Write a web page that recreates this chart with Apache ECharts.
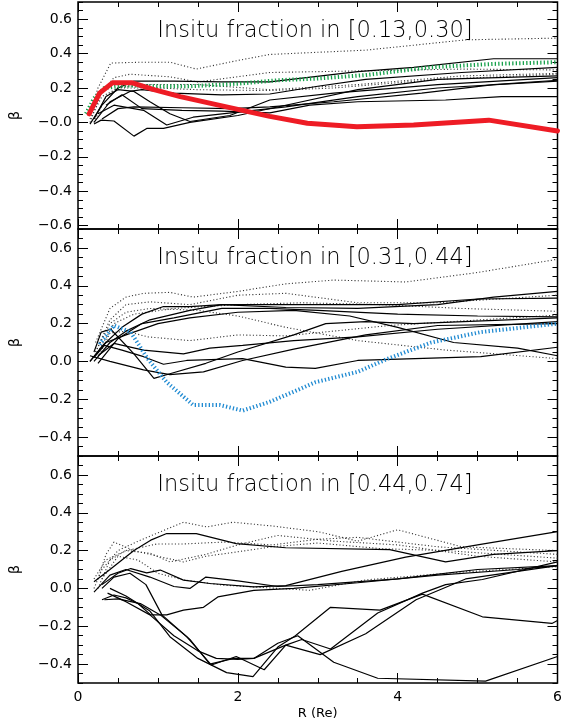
<!DOCTYPE html>
<html><head><meta charset="utf-8">
<script src="https://cdn.jsdelivr.net/npm/echarts@6/dist/echarts.min.js"></script>
<style>html,body{margin:0;padding:0;background:#fff}#c{width:572px;height:728px}</style>
</head><body><div id="c"></div>
<script>
// ---------- text / ticks ----------
const panelTitles = ['Insitu fraction in [0.13,0.30]', 'Insitu fraction in [0.31,0.44]', 'Insitu fraction in [0.44,0.74]'];
const xTitle = 'R (Re)';
const yTitle = 'β';
const yTicksP1 = [-0.6, -0.4, -0.2, 0, 0.2, 0.4, 0.6];
const yTicksP23 = [-0.4, -0.2, 0, 0.2, 0.4, 0.6];
const yRangeP1 = [-0.62, 0.7];
const yRangeP23 = [-0.5, 0.7];
const xRange = [0, 6];

// ---------- panel 1 ----------
const p1Solid = [
  [[0.15,-0.01],[0.3,0.1],[0.5,0.2],[0.7,0.24],[1.2,0.24],[1.8,0.235],[2.4,0.235],[3.5,0.295],[4.2,0.32],[5.2,0.37],[6,0.37]],
  [[0.2,0.0],[0.4,0.12],[0.65,0.18],[0.8,0.19],[1.2,0.17],[1.8,0.16],[2.4,0.165],[3.0,0.21],[3.6,0.25],[4.8,0.29],[6,0.32]],
  [[0.2,0.02],[0.35,0.15],[0.5,0.19],[0.7,0.18],[0.9,0.12],[1.15,0.05],[1.4,0.005],[1.9,0.04],[2.4,0.13],[3.2,0.17],[4.5,0.22],[6,0.26]],
  [[0.3,0.02],[0.5,0.08],[0.7,0.09],[1.3,0.085],[1.9,0.08],[2.4,0.09],[3.2,0.12],[4.3,0.17],[5.2,0.22],[6,0.245]],
  [[0.35,0.1],[0.55,0.16],[0.8,0.08],[1.3,0.07],[1.8,0.065],[2.4,0.055],[2.9,0.1],[3.5,0.12],[4.6,0.13],[5.3,0.15],[6,0.15]],
  [[0.2,-0.01],[0.29,0.013],[0.45,0.008],[0.7,-0.08],[0.86,-0.035],[1.07,-0.035],[1.4,0.0],[2.0,0.04],[2.7,0.11],[3.5,0.19],[4.5,0.25],[6,0.27]],
  [[0.25,0.05],[0.45,0.1],[0.82,0.07],[1.11,-0.015],[1.44,0.03],[2.0,0.06],[2.6,0.09],[3.5,0.15],[4.5,0.2],[6,0.24]]
];
const p1Dotted = [
  [[0.15,0.05],[0.25,0.2],[0.41,0.345],[0.8,0.35],[1.15,0.35],[1.48,0.31],[2.0,0.36],[2.4,0.395],[3.6,0.42],[4.85,0.48],[6,0.49]],
  [[0.15,0.0],[0.3,0.18],[0.45,0.26],[0.65,0.28],[1.15,0.265],[1.5,0.235],[2.4,0.29],[3.6,0.3],[4.8,0.31],[6,0.305]],
  [[0.2,0.0],[0.35,0.15],[0.5,0.2],[0.8,0.22],[1.5,0.22],[2.4,0.19],[3.5,0.22],[4.8,0.27],[6,0.285]],
  [[0.15,0.02],[0.3,0.15],[0.5,0.2],[1.0,0.2],[1.5,0.19],[2.4,0.185],[3.2,0.2],[4.5,0.25],[6,0.28]]
];
const p1Green = [[0.1,0.05],[0.2,0.14],[0.33,0.2],[0.6,0.215],[1.0,0.21],[1.4,0.21],[2.0,0.225],[2.5,0.245],[3.0,0.255],[3.6,0.275],[4.4,0.32],[5.2,0.34],[6,0.35]];
const p1Red = [[0.14,0.05],[0.27,0.17],[0.43,0.23],[0.68,0.23],[0.95,0.19],[1.28,0.15],[1.9,0.086],[2.4,0.035],[2.87,-0.005],[3.49,-0.025],[4.2,-0.015],[5.14,0.013],[6,-0.05]];

// ---------- panel 2 ----------
const p2Solid = [
  [[0.15,0.0],[0.3,0.08],[0.55,0.18],[0.8,0.25],[1.07,0.29],[1.4,0.29],[1.8,0.3],[2.6,0.285],[3.5,0.28],[4.5,0.3],[5.2,0.34],[6,0.37]],
  [[0.2,0.0],[0.4,0.1],[0.6,0.16],[0.9,0.22],[1.4,0.27],[1.8,0.3],[2.4,0.3],[3.0,0.3],[4.0,0.3],[5,0.33],[6,0.335]],
  [[0.25,-0.01],[0.5,0.12],[0.8,0.2],[1.2,0.23],[1.8,0.28],[2.4,0.28],[3.0,0.27],[4.0,0.25],[5.0,0.24],[6,0.235]],
  [[0.2,0.05],[0.29,0.155],[0.41,0.17],[0.7,0.04],[0.95,-0.09],[1.15,-0.065],[1.6,-0.01],[2.0,0.05],[2.7,0.14],[3.1,0.2],[3.6,0.21],[4.2,0.2],[6,0.23]],
  [[0.25,0.03],[0.45,0.095],[0.82,0.06],[1.32,0.04],[1.65,0.07],[2.06,0.085],[2.7,0.11],[3.5,0.13],[4.5,0.17],[6,0.21]],
  [[0.2,0.02],[0.33,0.085],[0.55,0.06],[0.82,0.025],[1.07,-0.015],[1.36,0.005],[2.06,0.015],[2.6,-0.03],[2.97,-0.037],[3.5,0.005],[5.04,0.025],[6,0.075]],
  [[0.15,0.03],[0.4,0.0],[0.82,-0.045],[1.15,-0.07],[1.57,-0.055],[2.06,0.005],[2.7,0.065],[3.6,0.14],[4.5,0.19],[6,0.2]],
  [[0.15,0.0],[0.35,0.1],[0.6,0.14],[1.0,0.2],[1.4,0.23],[2.0,0.26],[2.7,0.27],[3.4,0.24],[4.0,0.18],[4.7,0.1],[5.5,0.07],[6,0.03]]
];
const p2Dotted = [
  [[0.22,0.1],[0.4,0.28],[0.6,0.34],[0.82,0.36],[1.15,0.365],[1.44,0.34],[2.0,0.37],[2.6,0.41],[3.2,0.43],[4.1,0.42],[5.0,0.47],[6,0.54]],
  [[0.22,0.05],[0.4,0.22],[0.6,0.3],[0.9,0.315],[1.4,0.3],[2.0,0.35],[2.6,0.36],[3.5,0.31],[4.5,0.31],[6,0.35]],
  [[0.22,0.05],[0.4,0.2],[0.6,0.26],[0.9,0.28],[1.5,0.27],[2.0,0.24],[2.6,0.18],[3.5,0.11],[4.6,0.06],[6,0.015]],
  [[0.25,0.02],[0.4,0.15],[0.6,0.16],[0.87,0.13],[1.4,0.11],[2.0,0.14],[2.6,0.135],[3.9,0.19],[6,0.245]],
  [[0.25,0.05],[0.45,0.2],[0.7,0.25],[1.2,0.28],[2.0,0.3],[2.8,0.31],[3.8,0.3],[4.8,0.28],[6,0.265]]
];
const p2Blue = [[0.27,0.09],[0.45,0.19],[0.66,0.155],[0.87,0.015],[1.11,-0.11],[1.44,-0.23],[1.77,-0.23],[2.06,-0.26],[2.39,-0.215],[2.7,-0.16],[2.97,-0.11],[3.5,-0.055],[3.88,0.015],[4.42,0.1],[5.04,0.155],[6,0.2]];

// ---------- panel 3 ----------
const p3Solid = [
  [[0.2,0.035],[0.4,0.1],[0.7,0.2],[0.91,0.255],[1.11,0.29],[1.48,0.29],[1.98,0.237],[2.6,0.215],[3.9,0.205],[4.6,0.14],[5.2,0.18],[6,0.2]],
  [[0.3,0.02],[0.5,0.08],[0.66,0.105],[0.86,0.082],[1.03,0.097],[1.32,0.044],[1.65,0.026],[2.2,0.008],[2.6,0.015],[3.3,0.09],[4.1,0.165],[5.0,0.23],[6,0.3]],
  [[0.2,-0.02],[0.4,0.07],[0.6,0.1],[0.9,0.06],[1.2,0.01],[1.4,0.0],[1.6,0.06],[2.0,0.04],[2.5,0.01],[3.0,0.02],[4.0,0.05],[5.0,0.1],[6,0.12]],
  [[0.3,-0.06],[0.45,-0.035],[0.6,-0.05],[0.75,-0.08],[0.91,-0.14],[1.11,-0.14],[1.32,-0.115],[1.57,-0.1],[1.75,-0.045],[2.2,-0.01],[2.7,0.0],[3.5,0.03],[4.5,0.07],[5.5,0.1],[6,0.12]],
  [[0.3,0.0],[0.45,0.06],[0.65,0.08],[0.85,0.02],[1.05,-0.14],[1.4,-0.27],[1.65,-0.4],[1.95,-0.37],[2.2,-0.37],[2.5,-0.29],[2.75,-0.25],[3.2,-0.39],[3.75,-0.475],[5.1,-0.49],[6,-0.36]],
  [[0.33,-0.06],[0.5,-0.055],[0.78,-0.08],[1.03,-0.14],[1.36,-0.255],[1.67,-0.405],[1.98,-0.36],[2.33,-0.43],[2.6,-0.3],[3.03,-0.35],[3.6,-0.24],[4.23,-0.06],[4.85,0.05],[6,0.12]],
  [[0.37,-0.025],[0.6,-0.07],[0.9,-0.14],[1.2,-0.25],[1.5,-0.33],[1.73,-0.37],[2.0,-0.375],[2.2,-0.37],[2.6,-0.3],[2.8,-0.27],[3.16,-0.32],[3.75,-0.13],[4.31,-0.025],[4.6,0.02],[5.06,0.047],[6,0.14]],
  [[0.4,0.0],[0.6,-0.04],[0.9,-0.12],[1.15,-0.255],[1.5,-0.37],[1.86,-0.445],[2.19,-0.466],[2.5,-0.31],[2.72,-0.25],[3.16,-0.1],[3.78,-0.115],[4.31,-0.03],[5.06,-0.15],[5.93,-0.185],[6,-0.17]]
];
const p3Dotted = [
  [[0.2,0.0],[0.3,0.1],[0.5,0.2],[0.78,0.255],[1.32,0.35],[1.61,0.325],[1.94,0.35],[2.43,0.33],[3.0,0.3],[3.5,0.25],[4.0,0.31],[4.8,0.22],[6,0.2]],
  [[0.25,0.05],[0.35,0.18],[0.45,0.245],[0.7,0.2],[1.0,0.17],[1.32,0.14],[1.6,0.17],[1.94,0.19],[2.43,0.22],[3.0,0.24],[3.8,0.21],[4.6,0.2],[6,0.16]],
  [[0.25,0.0],[0.4,0.15],[0.6,0.2],[0.99,0.235],[1.32,0.235],[1.82,0.245],[2.43,0.23],[3.0,0.26],[3.5,0.27],[4.5,0.22],[6,0.18]],
  [[0.3,0.05],[0.5,0.17],[0.75,0.15],[1.0,0.08],[1.32,0.045],[1.82,0.017],[2.19,0.008],[2.9,-0.01],[3.6,0.045],[4.85,0.088],[6,0.115]],
  [[0.2,0.05],[0.35,0.15],[0.6,0.2],[0.91,0.185],[1.15,0.14],[1.6,0.18],[2.0,0.23],[2.5,0.28],[3.2,0.25],[4.0,0.23],[5.0,0.17],[6,0.14]]
];

// ---------- build ----------
const FONT = "'DejaVu Sans', sans-serif";
const gridTops = [2, 229, 456];
const gridH = 227;
const L = 73.5, W = 484;

function minorVals(r) {
  const out = [];
  for (let k = Math.ceil(r[0] / 0.05 - 1e-9); k * 0.05 <= r[1] + 1e-9; k++) out.push(+(k * 0.05).toFixed(2));
  return out;
}
function fmt(neg0) {
  return function (v) {
    if (Math.abs(v) < 1e-9) return neg0 ? '\u22120.0' : '0.0';
    return (v < 0 ? '\u2212' : '') + Math.abs(v).toFixed(1);
  };
}

const grid = [], xAxis = [], yAxis = [], series = [];
const ranges = [yRangeP1, yRangeP23, yRangeP23];
const ticks = [yTicksP1, yTicksP23, yTicksP23];

for (let g = 0; g < 3; g++) {
  grid.push({ left: L, width: W, top: gridTops[g], height: gridH, show: true, borderColor: '#000', borderWidth: 1.5, backgroundColor: 'transparent' });
  ['bottom', 'top'].forEach(function (pos) {
    const showLab = (g === 2 && pos === 'bottom');
    xAxis.push({
      gridIndex: g, type: 'value', position: pos, min: xRange[0], max: xRange[1], interval: 2,
      axisLine: { show: false, onZero: false },
      axisTick: { show: true, inside: true, length: 10, lineStyle: { color: '#000', width: 1 } },
      minorTick: { show: true, splitNumber: 4, length: 5, lineStyle: { color: '#000', width: 1 } },
      splitLine: { show: false }, minorSplitLine: { show: false },
      axisLabel: { show: showLab, color: '#000', fontSize: 14, fontFamily: FONT, margin: 7 },
      name: showLab ? xTitle : '', nameLocation: 'middle', nameGap: 24,
      nameTextStyle: { color: '#000', fontSize: 13, fontFamily: FONT }
    });
  });
  const r = ranges[g], tk = ticks[g], mv = minorVals(r);
  ['left', 'right'].forEach(function (pos) {
    yAxis.push({
      gridIndex: g, type: 'value', position: pos, min: r[0], max: r[1],
      axisLine: { show: false, onZero: false }, splitLine: { show: false },
      axisTick: { show: true, inside: true, length: 10, customValues: tk, lineStyle: { color: '#000', width: 1 } },
      axisLabel: { show: pos === 'left', customValues: tk, formatter: fmt(g === 0), color: '#000', fontSize: 14, fontFamily: FONT, margin: 6 },
      name: pos === 'left' ? yTitle : '', nameLocation: 'middle', nameGap: 56, nameRotate: 90,
      nameTextStyle: { color: '#000', fontSize: 14, fontFamily: FONT }
    });
    yAxis.push({
      gridIndex: g, type: 'value', position: pos, min: r[0], max: r[1],
      axisLine: { show: false, onZero: false }, splitLine: { show: false },
      axisTick: { show: true, inside: true, length: 5, customValues: mv, lineStyle: { color: '#000', width: 1 } },
      axisLabel: { show: false }
    });
  });
}

function addLine(g, data, style, z) {
  series.push({
    type: 'line', xAxisIndex: 2 * g, yAxisIndex: 4 * g, data: data,
    symbol: 'none', showSymbol: false, silent: true, animation: false, z: z,
    lineStyle: style
  });
}
const solidStyle = { color: '#000', width: 1.2, type: 'solid' };
const dotStyle = { color: '#333', width: 1.1, type: [1.1, 2.2] };

p1Dotted.forEach(d => addLine(0, d, dotStyle, 2));
p1Solid.forEach(d => addLine(0, d, solidStyle, 3));
addLine(0, p1Green, { color: '#16a04a', width: 4, type: [1.3, 2.2] }, 4);
addLine(0, p1Red, { color: '#ee1c25', width: 5, type: 'solid', cap: 'round', join: 'round' }, 5);

p2Dotted.forEach(d => addLine(1, d, dotStyle, 2));
p2Solid.forEach(d => addLine(1, d, solidStyle, 3));
addLine(1, p2Blue, { color: '#1f8ad2', width: 4, type: [1.3, 2.2] }, 5);

p3Dotted.forEach(d => addLine(2, d, dotStyle, 2));
p3Solid.forEach(d => addLine(2, d, solidStyle, 3));

const graphic = panelTitles.map(function (t, i) {
  return { type: 'text', x: 315, y: gridTops[i] + 29, z: 10,
    style: { text: t, fill: '#000', fontSize: 22.5, fontFamily: FONT, fontWeight: 200, align: 'center', verticalAlign: 'middle' } };
});

const chart = echarts.init(document.getElementById('c'), null, { renderer: 'canvas' });
chart.setOption({ animation: false, backgroundColor: '#fff', grid: grid, xAxis: xAxis, yAxis: yAxis, series: series, graphic: graphic });
</script></body></html>
